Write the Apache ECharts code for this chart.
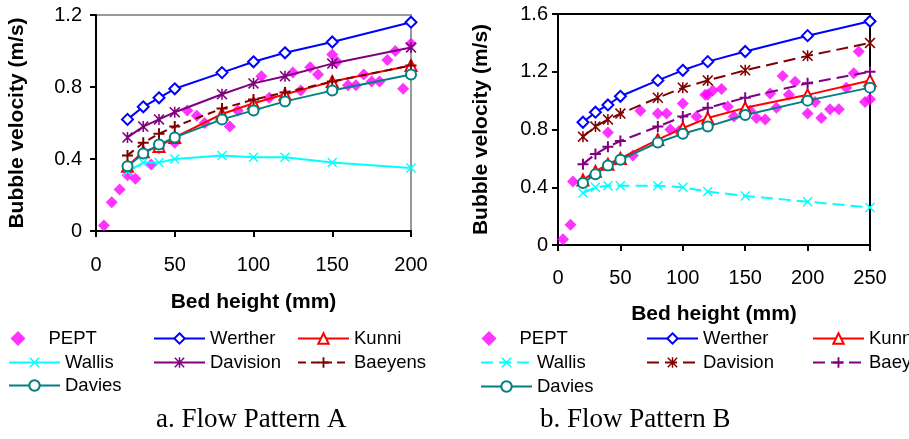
<!DOCTYPE html>
<html>
<head>
<meta charset="utf-8">
<script src="https://cdn.jsdelivr.net/npm/echarts@6/dist/echarts.min.js"></script>
<style>
html,body{margin:0;padding:0;background:#fff;}
#chart{width:909px;height:439px;}
</style>
</head>
<body>
<div id="chart"></div>
<script>
// ---- Data: Flow Pattern A ----
const leftModelX = [20, 30, 40, 50, 80, 100, 120, 150, 200];
const leftWerther  = [0.62, 0.69, 0.74, 0.79, 0.88, 0.94, 0.99, 1.05, 1.16];
const leftKunni    = [0.36, 0.44, 0.47, 0.52, 0.65, 0.71, 0.76, 0.83, 0.92];
const leftWallis   = [0.33, 0.38, 0.38, 0.40, 0.42, 0.41, 0.41, 0.38, 0.35];
const leftDavision = [0.52, 0.58, 0.62, 0.66, 0.76, 0.82, 0.86, 0.93, 1.02];
const leftBaeyens  = [0.42, 0.49, 0.54, 0.58, 0.68, 0.73, 0.77, 0.83, 0.92];
const leftDavies   = [0.36, 0.43, 0.48, 0.52, 0.62, 0.67, 0.72, 0.78, 0.87];
const leftPeptX = [5, 10, 15, 20, 25, 35, 40, 50, 58, 64, 69, 85, 90, 105, 110, 125, 130, 136, 141, 150, 153, 160, 165, 170, 175, 180, 185, 190, 195, 200];
const leftPeptY = [0.03, 0.16, 0.23, 0.31, 0.29, 0.37, 0.46, 0.49, 0.67, 0.64, 0.60, 0.58, 0.67, 0.86, 0.74, 0.88, 0.78, 0.91, 0.87, 0.98, 0.94, 0.81, 0.81, 0.87, 0.83, 0.83, 0.95, 1.00, 0.79, 1.04];

// ---- Data: Flow Pattern B ----
const rightModelX = [20, 30, 40, 50, 80, 100, 120, 150, 200, 250];
const rightWerther  = [0.85, 0.92, 0.97, 1.03, 1.14, 1.21, 1.27, 1.34, 1.45, 1.55];
const rightKunni    = [0.45, 0.51, 0.56, 0.60, 0.73, 0.81, 0.88, 0.95, 1.04, 1.14];
const rightWallis   = [0.36, 0.40, 0.41, 0.41, 0.41, 0.40, 0.37, 0.34, 0.30, 0.26];
const rightDavision = [0.75, 0.82, 0.87, 0.91, 1.02, 1.09, 1.14, 1.21, 1.31, 1.40];
const rightBaeyens  = [0.56, 0.63, 0.68, 0.72, 0.82, 0.89, 0.95, 1.02, 1.12, 1.20];
const rightDavies   = [0.43, 0.49, 0.55, 0.59, 0.71, 0.77, 0.82, 0.90, 1.00, 1.09];
const rightPeptX = [4, 10, 12, 40, 60, 66, 80, 87, 90, 97, 100, 111, 118, 120, 124, 131, 136, 141, 154, 159, 166, 170, 175, 180, 185, 190, 200, 206, 211, 218, 225, 231, 237, 241, 246, 250];
const rightPeptY = [0.04, 0.14, 0.44, 0.78, 0.62, 0.93, 0.91, 0.91, 0.80, 0.79, 0.98, 0.89, 1.04, 1.04, 1.07, 1.08, 0.96, 0.89, 0.93, 0.88, 0.87, 1.05, 0.95, 1.17, 1.04, 1.13, 0.91, 0.99, 0.88, 0.94, 0.94, 1.09, 1.19, 1.34, 0.99, 1.01];

const leftXTicks = {min: 0, max: 200, interval: 50};
const leftYTicks = {min: 0, max: 1.2, interval: 0.4};
const rightXTicks = {min: 0, max: 250, interval: 50};
const rightYTicks = {min: 0, max: 1.6, interval: 0.4};

const captions = ['a. Flow Pattern A', 'b. Flow Pattern B'];
const xTitle = 'Bed height (mm)';
const yTitle = 'Bubble velocity (m/s)';

// ---- Symbols ----
const SYM_DIAMOND = 'path://M5,0L10,5L5,10L0,5Z';
const SYM_X = 'path://M0,1L1,0L5,4L9,0L10,1L6,5L10,9L9,10L5,6L1,10L0,9L4,5Z';
const SYM_STAR = 'path://M0,1L1,0L5,4L9,0L10,1L6,5L10,9L9,10L5,6L1,10L0,9L4,5ZM4.3,0L5.7,0L5.7,10L4.3,10Z';
const SYM_PLUS = 'path://M4.1,0L5.9,0L5.9,4.1L10,4.1L10,5.9L5.9,5.9L5.9,10L4.1,10L4.1,5.9L0,5.9L0,4.1L4.1,4.1Z';

const FONT = 'Liberation Sans';
const C = {pept:'#FF00FF', werther:'#0000FF', kunni:'#FF0000', wallis:'#00FFFF', purple:'#800080', darkred:'#800000', davies:'#008080'};

function pairs(xs, ys){ return xs.map((x,i)=>[x, ys[i]]); }

function lineSeries(name, xs, ys, color, symbol, size, dash, gi){
  const empty = symbol.indexOf('empty') === 0;
  return {
    type: 'line', name: name, xAxisIndex: gi, yAxisIndex: gi,
    data: pairs(xs, ys), symbol: symbol, symbolSize: size, showAllSymbol: true,
    z: 3,
    lineStyle: {color: color, width: 2, type: dash || 'solid'},
    itemStyle: empty ? {color: color, borderColor: color, borderWidth: 2} : {color: color, borderWidth: 0},
    emphasis: {disabled: true}
  };
}
function peptSeries(name, xs, ys, gi){
  return {type:'scatter', name:name, xAxisIndex:gi, yAxisIndex:gi, data: pairs(xs, ys),
    symbol: SYM_DIAMOND, symbolSize: 12, z: 2, itemStyle:{color:C.pept}, emphasis:{disabled:true}};
}

const series = [
  peptSeries('PEPT|a', leftPeptX, leftPeptY, 0),
  lineSeries('Werther|a', leftModelX, leftWerther, C.werther, 'emptyDiamond', 11, null, 0),
  lineSeries('Kunni|a', leftModelX, leftKunni, C.kunni, 'emptyTriangle', 11, null, 0),
  lineSeries('Wallis|a', leftModelX, leftWallis, C.wallis, SYM_X, 10, null, 0),
  lineSeries('Davision|a', leftModelX, leftDavision, C.purple, SYM_STAR, 11, null, 0),
  lineSeries('Baeyens|a', leftModelX, leftBaeyens, C.darkred, SYM_PLUS, 11, [8,5], 0),
  lineSeries('Davies|a', leftModelX, leftDavies, C.davies, 'emptyCircle', 10, null, 0),
  peptSeries('PEPT|b', rightPeptX, rightPeptY, 1),
  lineSeries('Werther|b', rightModelX, rightWerther, C.werther, 'emptyDiamond', 11, null, 1),
  lineSeries('Kunni|b', rightModelX, rightKunni, C.kunni, 'emptyTriangle', 11, null, 1),
  lineSeries('Wallis|b', rightModelX, rightWallis, C.wallis, SYM_X, 10, [12,6], 1),
  lineSeries('Davision|b', rightModelX, rightDavision, C.darkred, SYM_STAR, 11, [12,6], 1),
  lineSeries('Baeyens|b', rightModelX, rightBaeyens, C.purple, SYM_PLUS, 11, [12,6], 1),
  lineSeries('Davies|b', rightModelX, rightDavies, C.davies, 'emptyCircle', 10, null, 1)
];

// legend layout: [name, left, rowCenterY, iconHeight]
const legendPos = [
  ['PEPT|a', 10.5, 339, 15], ['Werther|a', 153, 339, 13], ['Kunni|a', 297, 339, 13],
  ['Wallis|a', 8, 363, 13], ['Davision|a', 153, 363, 13], ['Baeyens|a', 297, 363, 13],
  ['Davies|a', 8, 386, 13],
  ['PEPT|b', 481.5, 339, 15], ['Werther|b', 646, 339, 13], ['Kunni|b', 812, 339, 13],
  ['Wallis|b', 480, 363, 13], ['Davision|b', 646, 363, 13], ['Baeyens|b', 812, 363, 13],
  ['Davies|b', 480, 387, 13]
];
const legends = legendPos.map(([n, l, y, h]) => ({
  data: [n], left: l, top: y - 10, orient: 'horizontal', padding: 0,
  itemWidth: 51, itemHeight: h, selectedMode: false,
  formatter: s => s.split('|')[0],
  textStyle: {fontFamily: FONT, fontSize: 18.5, color: '#000'}
}));

function xAxis(gi, t, labelMargin, nameGap){
  return {type:'value', gridIndex: gi, min: t.min, max: t.max, interval: t.interval,
    name: xTitle, nameLocation: 'middle', nameGap: nameGap,
    nameTextStyle: {fontFamily: FONT, fontWeight: 'bold', fontSize: 21, color: '#000'},
    axisLine: {show: true, onZero: false, lineStyle: {color:'#000', width: 2}},
    axisTick: {show: true, inside: false, length: 6, lineStyle: {color:'#000', width: 2}},
    axisLabel: {fontFamily: FONT, fontSize: 20, color: '#000', margin: labelMargin},
    splitLine: {show: false}};
}
function yAxis(gi, t, labelMargin, nameGap){
  return {type:'value', gridIndex: gi, min: t.min, max: t.max, interval: t.interval,
    name: yTitle, nameLocation: 'middle', nameGap: nameGap,
    nameTextStyle: {fontFamily: FONT, fontWeight: 'bold', fontSize: 21, color: '#000'},
    axisLine: {show: true, onZero: false, lineStyle: {color:'#000', width: 2}},
    axisTick: {show: true, inside: false, length: 6, lineStyle: {color:'#000', width: 2}},
    axisLabel: {fontFamily: FONT, fontSize: 20, color: '#000', margin: labelMargin},
    splitLine: {show: false}};
}

const option = {
  animation: false,
  backgroundColor: '#fff',
  title: [
    {text: captions[0], left: 156, top: 406, padding: 0, textStyle: {fontFamily: 'Liberation Serif', fontWeight: 'normal', fontSize: 27, color: '#000'}},
    {text: captions[1], left: 540, top: 406, padding: 0, textStyle: {fontFamily: 'Liberation Serif', fontWeight: 'normal', fontSize: 27, color: '#000'}}
  ],
  legend: legends,
  grid: [
    {left: 96, top: 15, width: 315, height: 216, show: true, borderColor: '#999', borderWidth: 2, backgroundColor: 'transparent', outerBoundsMode: 'none', containLabel: false},
    {left: 558, top: 14, width: 312, height: 231, show: true, borderColor: '#000', borderWidth: 2, backgroundColor: 'transparent', outerBoundsMode: 'none', containLabel: false}
  ],
  xAxis: [xAxis(0, leftXTicks, 24, 61), xAxis(1, rightXTicks, 23, 59)],
  yAxis: [yAxis(0, leftYTicks, 14, 68), yAxis(1, rightYTicks, 10, 66)],
  series: series
};

const chart = echarts.init(document.getElementById('chart'), null, {renderer: 'canvas'});
chart.setOption(option);
</script>
</body>
</html>
